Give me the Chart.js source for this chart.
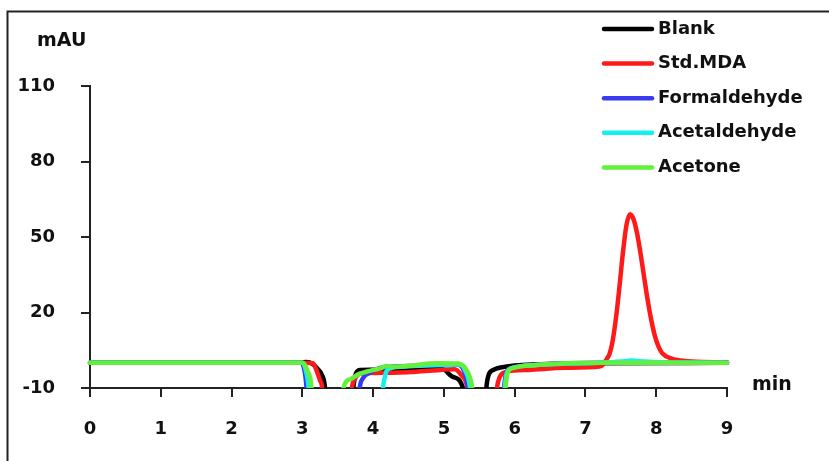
<!DOCTYPE html>
<html>
<head>
<meta charset="utf-8">
<script src="https://cdn.jsdelivr.net/npm/chart.js@4.4.1/dist/chart.umd.min.js"></script>
<style>
  body { margin: 0; background: #fff; }
  canvas { display: block; }
</style>
</head>
<body>
<canvas id="chrom" width="829" height="461"></canvas>
<script>
// chromatogram traces, [time (min), signal (mAU)]; -20 = off the bottom of the plot
const blank = [[0,0],[2.9,0],[3.05,0.3],[3.15,-0.5],[3.22,-2.5],[3.28,-5],[3.32,-10],[3.34,-20],[3.69,-20],[3.72,-10],[3.76,-4],[3.82,-2.8],[4.2,-2.6],[4.6,-2.4],[4.98,-2.5],[5.12,-5.5],[5.27,-10],[5.3,-20],[5.58,-20],[5.6,-10],[5.63,-5],[5.7,-2.8],[5.85,-1.6],[6.1,-0.9],[7,-0.2],[9,0]];
const stdMDA = [[0,0],[3.0,0],[3.15,-0.2],[3.2,-3],[3.25,-7],[3.28,-10],[3.3,-20],[3.67,-20],[3.7,-10],[3.75,-6],[3.82,-4.2],[4.2,-3.9],[4.6,-3.5],[4.95,-2.8],[5.15,-2.5],[5.25,-5],[5.33,-10],[5.36,-20],[5.72,-20],[5.75,-10],[5.79,-5.6],[5.88,-3.6],[6.2,-2.8],[6.7,-2],[7.2,-1.5],[7.25,-0.6],[7.3,1.5],[7.34,3.5],[7.38,8],[7.43,17.5],[7.48,30],[7.53,43.9],[7.58,54.8],[7.63,59],[7.68,57],[7.73,51.4],[7.78,43.2],[7.83,33.9],[7.88,24.8],[7.93,17],[7.98,10.8],[8.03,6.6],[8.08,4],[8.14,2.6],[8.2,1.9],[8.3,1.1],[8.5,0.5],[9,0.2]];
const formaldehyde = [[0,0],[2.98,0],[3.03,-3],[3.06,-10],[3.08,-20],[3.78,-20],[3.81,-10],[3.86,-6],[3.95,-4],[4.1,-2],[4.4,-1.4],[4.8,-1],[5.2,-0.8],[5.28,-3],[5.34,-10],[5.37,-20],[5.82,-20],[5.85,-10],[5.88,-4],[5.96,-2],[6.3,-0.9],[7.2,0],[9,0]];
const acetaldehyde = [[0,0],[3.0,0],[3.05,-3],[3.09,-10],[3.11,-20],[4.11,-20],[4.14,-10],[4.18,-4],[4.24,-2.2],[4.5,-1.4],[4.9,-0.9],[5.22,-0.7],[5.3,-3],[5.37,-10],[5.4,-20],[5.83,-20],[5.86,-10],[5.89,-4],[5.97,-2],[6.3,-0.9],[7.2,0],[7.5,0.5],[7.65,0.9],[7.85,0.5],[8.2,0.1],[9,0]];
const acetone = [[0,0],[3.0,0],[3.07,-3],[3.13,-10],[3.15,-20],[3.55,-20],[3.58,-10],[3.68,-6.5],[3.8,-4.5],[3.95,-3.2],[4.1,-2.2],[4.19,-1.3],[4.27,-1.6],[4.5,-1.2],[4.9,-0.2],[5.2,-0.3],[5.3,-2],[5.37,-6],[5.4,-10],[5.43,-20],[5.84,-20],[5.87,-10],[5.9,-4],[5.98,-2],[6.3,-0.9],[7.2,0],[9,0]];

const seriesNames = ['Blank', 'Std.MDA', 'Formaldehyde', 'Acetaldehyde', 'Acetone'];
const seriesData = [blank, stdMDA, formaldehyde, acetaldehyde, acetone];
const seriesColors = ['#000000', '#ff1a1a', '#3a3aee', '#14f0f0', '#62f03c'];

Chart.defaults.font.family = 'DejaVu Sans';
Chart.defaults.font.weight = 'bold';
Chart.defaults.color = '#111';

// frame, axis captions and the legend drawn at fixed spots like the original
const decorations = {
    id: 'decorations',
    afterDraw(chart) {
        const ctx = chart.ctx;
        ctx.save();
        ctx.strokeStyle = '#222';
        ctx.lineWidth = 2;
        ctx.beginPath();
        ctx.moveTo(7.5, 461);
        ctx.lineTo(7.5, 11.5);
        ctx.lineTo(829, 11.5);
        ctx.stroke();

        ctx.fillStyle = '#111';
        ctx.font = 'bold 19px "DejaVu Sans"';
        ctx.textBaseline = 'middle';
        ctx.textAlign = 'left';
        ctx.fillText('mAU', 37, 41);
        ctx.fillText('min', 752, 385);

        ctx.font = 'bold 18px "DejaVu Sans"';
        chart.data.datasets.forEach((ds, i) => {
            const y = 29 + i * 34.6;
            ctx.strokeStyle = ds.borderColor;
            ctx.lineWidth = 4.5;
            ctx.lineCap = 'round';
            ctx.beginPath();
            ctx.moveTo(604, y);
            ctx.lineTo(652, y);
            ctx.stroke();
            ctx.fillText(ds.label, 658, y);
        });
        ctx.restore();
    }
};

new Chart(document.getElementById('chrom'), {
    type: 'line',
    data: {
        datasets: seriesNames.map((name, i) => ({
            label: name,
            data: seriesData[i].map(p => ({ x: p[0], y: p[1] })),
            borderColor: seriesColors[i],
            borderWidth: 4.5,
            borderCapStyle: 'round',
            borderJoinStyle: 'round',
            pointRadius: 0,
            cubicInterpolationMode: 'monotone',
            fill: false,
            order: seriesNames.length - i,
            clip: { left: 5, right: 5, top: 5, bottom: 0 }
        }))
    },
    options: {
        responsive: false,
        animation: false,
        layout: { padding: { left: 0, right: 102, top: 86, bottom: 0 } },
        plugins: { legend: { display: false }, tooltip: { enabled: false } },
        scales: {
            x: {
                type: 'linear',
                min: 0,
                max: 9,
                afterFit: s => { s.height = 73; },
                border: { color: '#222', width: 2 },
                grid: { drawOnChartArea: false, tickLength: 9, color: '#222', lineWidth: 2 },
                ticks: { stepSize: 1, padding: 22, font: { size: 18, weight: 'bold' } }
            },
            y: {
                min: -10,
                max: 110,
                afterFit: s => { s.width = 90; },
                border: { color: '#222', width: 2 },
                grid: { drawOnChartArea: false, tickLength: 9, color: '#222', lineWidth: 2 },
                ticks: { stepSize: 30, padding: 26, font: { size: 18, weight: 'bold' } }
            }
        }
    },
    plugins: [decorations]
});
</script>
</body>
</html>
